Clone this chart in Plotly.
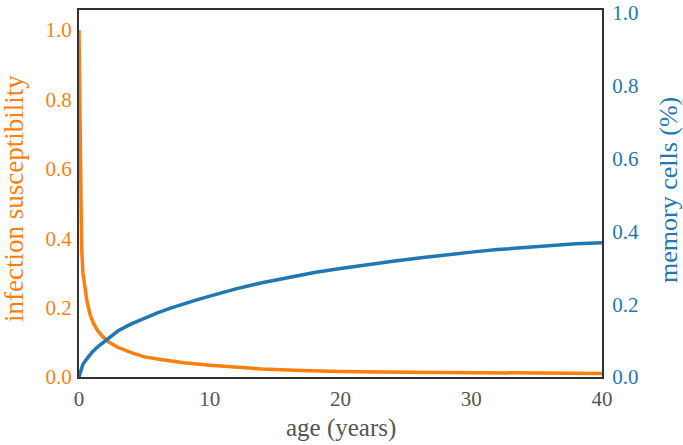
import plotly.graph_objects as go

# infection susceptibility (left axis)
age_sus = [0, 0.05, 0.1, 0.15, 0.2, 0.3, 0.45, 0.6, 0.85, 1.1, 1.4, 1.8, 2.3, 3, 4, 5, 6, 7, 8, 10,
           12, 14, 17, 20, 25, 30, 35, 40]
susceptibility = [1.0, 0.78, 0.58, 0.45, 0.37, 0.30, 0.25, 0.22, 0.18, 0.155, 0.135, 0.117, 0.10,
                  0.085, 0.07, 0.058, 0.052, 0.046, 0.041, 0.034, 0.028, 0.023, 0.019, 0.016,
                  0.014, 0.012, 0.011, 0.010]

# memory cells (right axis)
age_mem = [0, 0.1, 0.3, 0.6, 1.0, 1.5, 2, 3, 4, 5, 6, 7, 8, 9, 10, 12, 14, 16, 18, 20, 22, 24,
           26, 28, 30, 32, 34, 36, 38, 40]
memory = [0.0, 0.015, 0.035, 0.05, 0.068, 0.085, 0.10, 0.127, 0.146, 0.162, 0.176, 0.189, 0.201,
          0.212, 0.222, 0.242, 0.259, 0.274, 0.287, 0.298, 0.309, 0.318, 0.327, 0.336, 0.343,
          0.35, 0.356, 0.362, 0.366, 0.369]

x_ticks = [0, 10, 20, 30, 40]
y_ticks = [0.0, 0.2, 0.4, 0.6, 0.8, 1.0]
y_ticklabels = ["0.0", "0.2", "0.4", "0.6", "0.8", "1.0"]

x_title = "age (years)"
y_title = "infection susceptibility"
y2_title = "memory cells (%)"

ORANGE = "#ff7f0e"
BLUE = "#1f77b4"
GRAY = "#555555"
FONT = "Liberation Serif, serif"
TICK = 21
TITLE = 25

fig = go.Figure()
fig.add_trace(go.Scatter(x=age_sus, y=susceptibility, mode="lines",
                         line=dict(color=ORANGE, width=3.5), yaxis="y", showlegend=False))
fig.add_trace(go.Scatter(x=age_mem, y=memory, mode="lines",
                         line=dict(color=BLUE, width=3.5), yaxis="y2", showlegend=False))

fig.update_layout(
    width=683, height=445,
    margin=dict(l=79, r=81, t=10, b=68, autoexpand=False),
    paper_bgcolor="white", plot_bgcolor="white",
    font=dict(family=FONT, size=TICK, color=GRAY),
    xaxis=dict(range=[0, 40], tickvals=x_ticks, showgrid=False, zeroline=False,
               showline=True, mirror=True, linecolor="#333333", linewidth=2,
               ticks="", ticklabelstandoff=2, automargin=False,
               tickfont=dict(family=FONT, size=TICK, color=GRAY)),
    yaxis=dict(range=[0, 1.058], tickvals=y_ticks, ticktext=y_ticklabels, showgrid=False,
               zeroline=False, showline=True, linecolor="#333333", linewidth=2, ticks="",
               ticklabelstandoff=1, automargin=False,
               tickfont=dict(family=FONT, size=TICK, color=ORANGE)),
    yaxis2=dict(range=[0, 1.008], tickvals=y_ticks, ticktext=y_ticklabels, overlaying="y",
                side="right", showgrid=False, zeroline=False, showline=True,
                linecolor="#333333", linewidth=2, ticks="", ticklabelstandoff=4,
                automargin=False,
                tickfont=dict(family=FONT, size=TICK, color=BLUE)),
    annotations=[
        dict(text=x_title, xref="paper", yref="paper", x=0.5, y=-0.139,
             xanchor="center", yanchor="middle", showarrow=False,
             font=dict(family=FONT, size=TITLE, color=GRAY)),
        dict(text=y_title, xref="paper", yref="paper", x=-0.1243, y=0.4877,
             xanchor="center", yanchor="middle", textangle=-90, showarrow=False,
             font=dict(family=FONT, size=TITLE + 2, color=ORANGE)),
        dict(text=y2_title, xref="paper", yref="paper", x=1.1262, y=0.5095,
             xanchor="center", yanchor="middle", textangle=-90, showarrow=False,
             font=dict(family=FONT, size=TITLE + 1, color=BLUE)),
    ],
)

fig.write_html("out.html")
